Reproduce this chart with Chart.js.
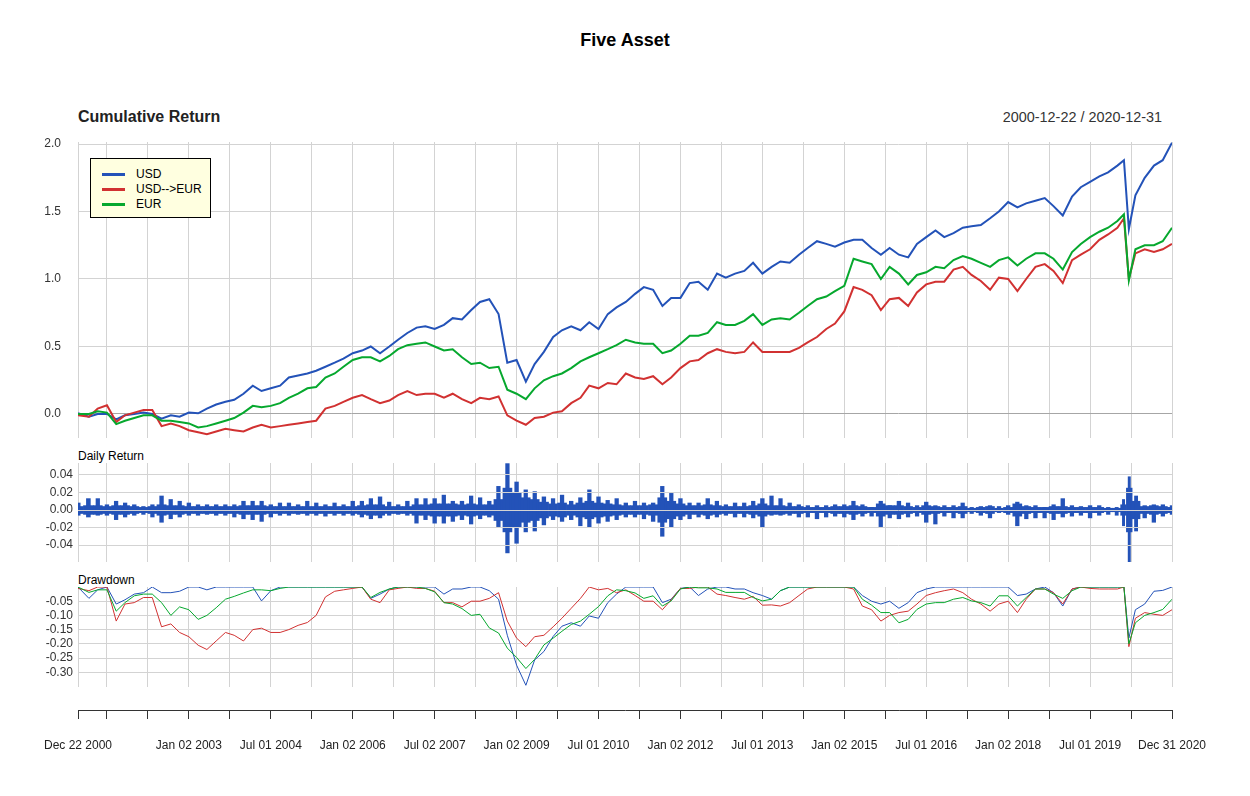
<!DOCTYPE html>
<html>
<head>
<meta charset="utf-8">
<title>Five Asset</title>
<script src="https://cdn.jsdelivr.net/npm/chart.js@4.4.0/dist/chart.umd.min.js"></script>
<style>
  body { margin: 0; background: #fff; font-family: "Liberation Sans", Arial, Helvetica, sans-serif; }
  #page { position: relative; width: 1250px; height: 796px; overflow: hidden; }
  .txt { position: absolute; white-space: nowrap; line-height: 1; }
  canvas { position: absolute; left: 0; }
  #legend { position: absolute; left: 90px; top: 158px; width: 119px; height: 58px; border: 1px solid #000; background: #ffffe0; }
  #legend .sw { position: absolute; left: 11px; width: 23px; height: 3px; }
  #legend .lb { position: absolute; left: 45px; font-size: 12px; line-height: 12px; color: #000; }
</style>
</head>
<body>
<div id="page">
  <div class="txt" style="left:0;width:1250px;text-align:center;top:31px;font-size:18px;font-weight:bold;color:#000">Five Asset</div>
  <div class="txt" style="left:78px;top:109px;font-size:16px;font-weight:bold;color:#222">Cumulative Return</div>
  <div class="txt" style="right:88px;top:110px;font-size:14.4px;color:#333">2000-12-22 / 2020-12-31</div>
  <div class="txt" style="left:78px;top:450px;font-size:12px;color:#000">Daily Return</div>
  <div class="txt" style="left:78px;top:574px;font-size:12px;color:#000">Drawdown</div>

  <canvas id="cumChart" width="1250" height="320" style="top:130px"></canvas>
  <canvas id="dailyChart" width="1250" height="118" style="top:452px"></canvas>
  <canvas id="ddChart" width="1250" height="200" style="top:575px"></canvas>

  <div id="legend">
    <div class="sw" style="top:14px;background:#2352b8"></div><div class="lb" style="top:9px">USD</div>
    <div class="sw" style="top:29px;background:#d13131"></div><div class="lb" style="top:24px">USD--&gt;EUR</div>
    <div class="sw" style="top:44px;background:#06a82e"></div><div class="lb" style="top:39px">EUR</div>
  </div>
</div>

<script>
// sample dates (decimal years, roughly every two months, plus the March 2020 crash)
const dates = [
  2000.97, 2001.17, 2001.33, 2001.5, 2001.67, 2001.83,
  2002, 2002.17, 2002.33, 2002.5, 2002.67, 2002.83,
  2003, 2003.17, 2003.33, 2003.5, 2003.67, 2003.83,
  2004, 2004.17, 2004.33, 2004.5, 2004.67, 2004.83,
  2005, 2005.17, 2005.33, 2005.5, 2005.67, 2005.83,
  2006, 2006.17, 2006.33, 2006.5, 2006.67, 2006.83,
  2007, 2007.17, 2007.33, 2007.5, 2007.67, 2007.83,
  2008, 2008.17, 2008.33, 2008.5, 2008.67, 2008.83,
  2009, 2009.17, 2009.33, 2009.5, 2009.67, 2009.83,
  2010, 2010.17, 2010.33, 2010.5, 2010.67, 2010.83,
  2011, 2011.17, 2011.33, 2011.5, 2011.67, 2011.83,
  2012, 2012.17, 2012.33, 2012.5, 2012.67, 2012.83,
  2013, 2013.17, 2013.33, 2013.5, 2013.67, 2013.83,
  2014, 2014.17, 2014.33, 2014.5, 2014.67, 2014.83,
  2015, 2015.17, 2015.33, 2015.5, 2015.67, 2015.83,
  2016, 2016.17, 2016.33, 2016.5, 2016.67, 2016.83,
  2017, 2017.17, 2017.33, 2017.5, 2017.67, 2017.83,
  2018, 2018.17, 2018.33, 2018.5, 2018.67, 2018.83,
  2019, 2019.17, 2019.33, 2019.5, 2019.67, 2019.83,
  2020, 2020.12, 2020.21, 2020.33, 2020.5, 2020.67, 2020.83, 2021
];

// cumulative return
const usdCum = [
  0.005, -0.02, 0.0, 0.0, -0.04, -0.01,
  0.0, 0.01, 0.0, -0.035, -0.01, -0.02,
  0.01, 0.005, 0.04, 0.07, 0.09, 0.105,
  0.15, 0.21, 0.17, 0.19, 0.21, 0.27,
  0.285, 0.30, 0.32, 0.35, 0.38, 0.41,
  0.45, 0.47, 0.50, 0.45, 0.50, 0.55,
  0.60, 0.64, 0.65, 0.63, 0.66, 0.71,
  0.70, 0.77, 0.83, 0.85, 0.74, 0.38,
  0.40, 0.24, 0.37, 0.46, 0.57, 0.62,
  0.65, 0.62, 0.68, 0.63, 0.74, 0.79,
  0.83, 0.89, 0.94, 0.92, 0.80, 0.86,
  0.86, 0.97, 0.98, 0.92, 1.04, 1.01,
  1.04, 1.06, 1.12, 1.04, 1.09, 1.13,
  1.12, 1.18, 1.23, 1.28, 1.26, 1.24,
  1.27, 1.29, 1.29, 1.23, 1.18, 1.23,
  1.18, 1.16, 1.26, 1.31, 1.36, 1.31,
  1.34, 1.38, 1.39, 1.40, 1.45, 1.50,
  1.57, 1.53, 1.56, 1.58, 1.60, 1.54,
  1.47, 1.61, 1.68, 1.72, 1.76, 1.79,
  1.84, 1.88, 1.37, 1.62, 1.75, 1.84, 1.88, 2.01
];
const usdEurCum = [
  -0.01, -0.02, 0.04, 0.065, -0.06, -0.01,
  0.01, 0.03, 0.03, -0.09, -0.07, -0.09,
  -0.12, -0.135, -0.15, -0.13, -0.11, -0.12,
  -0.13, -0.10, -0.08, -0.10, -0.09, -0.08,
  -0.07, -0.06, -0.05, 0.04, 0.06, 0.09,
  0.12, 0.14, 0.11, 0.08, 0.10, 0.14,
  0.17, 0.14, 0.15, 0.15, 0.12, 0.15,
  0.11, 0.08, 0.12, 0.11, 0.13, -0.01,
  -0.05, -0.08, -0.03, -0.02, 0.01, 0.02,
  0.08, 0.12, 0.21, 0.19, 0.23, 0.22,
  0.30, 0.27, 0.26, 0.28, 0.22, 0.27,
  0.34, 0.39, 0.40, 0.45, 0.48, 0.46,
  0.45, 0.46, 0.53, 0.46, 0.46, 0.46,
  0.46, 0.49, 0.53, 0.57, 0.63, 0.67,
  0.76, 0.94, 0.92, 0.88, 0.77, 0.85,
  0.86, 0.80, 0.90, 0.96, 0.98, 0.98,
  1.07, 1.09, 1.03, 0.985, 0.92, 1.01,
  1.00, 0.91, 1.00, 1.09, 1.11, 1.06,
  0.97, 1.14, 1.18, 1.22, 1.29, 1.33,
  1.38, 1.45, 1.00, 1.19, 1.22, 1.20, 1.22, 1.26
];
const eurCum = [
  0.0, 0.0, 0.02, 0.01, -0.075, -0.05,
  -0.03, -0.01, -0.01, -0.05, -0.05, -0.06,
  -0.07, -0.10, -0.09, -0.07, -0.05, -0.03,
  0.01, 0.06, 0.05, 0.06, 0.08, 0.12,
  0.15, 0.19, 0.20, 0.27, 0.30, 0.35,
  0.40, 0.42, 0.42, 0.39, 0.43, 0.48,
  0.51, 0.52, 0.53, 0.50, 0.47, 0.48,
  0.42, 0.37, 0.38, 0.34, 0.35, 0.18,
  0.15, 0.11, 0.19, 0.25, 0.28, 0.30,
  0.34, 0.39, 0.42, 0.45, 0.48, 0.51,
  0.55, 0.53, 0.52, 0.52, 0.45, 0.47,
  0.52, 0.58, 0.58, 0.60, 0.68, 0.66,
  0.66, 0.69, 0.74, 0.66, 0.70, 0.71,
  0.70, 0.75, 0.80, 0.85, 0.87, 0.91,
  0.95, 1.15, 1.13, 1.11, 1.00, 1.09,
  1.04, 0.96, 1.03, 1.05, 1.09, 1.08,
  1.14, 1.17, 1.15, 1.12, 1.09, 1.14,
  1.16, 1.10, 1.15, 1.19, 1.19, 1.15,
  1.07, 1.20, 1.26, 1.31, 1.35, 1.38,
  1.43, 1.48, 0.99, 1.22, 1.25, 1.25, 1.28, 1.38
];

// daily return (USD): lowest and highest day in each sample period
const dailyLow = [
  -0.006, -0.008, -0.006, -0.006, -0.011, -0.008,
  -0.006, -0.005, -0.008, -0.014, -0.010, -0.008,
  -0.006, -0.006, -0.005, -0.006, -0.006, -0.008,
  -0.010, -0.011, -0.013, -0.008, -0.006, -0.006,
  -0.005, -0.006, -0.006, -0.007, -0.006, -0.006,
  -0.006, -0.008, -0.010, -0.009, -0.006, -0.005,
  -0.006, -0.015, -0.011, -0.015, -0.015, -0.013,
  -0.011, -0.016, -0.010, -0.008, -0.019, -0.049,
  -0.038, -0.025, -0.024, -0.017, -0.011, -0.013,
  -0.011, -0.018, -0.020, -0.015, -0.013, -0.011,
  -0.008, -0.008, -0.010, -0.013, -0.030, -0.020,
  -0.011, -0.010, -0.008, -0.010, -0.008, -0.006,
  -0.008, -0.008, -0.009, -0.020, -0.006, -0.006,
  -0.006, -0.008, -0.008, -0.010, -0.008, -0.007,
  -0.008, -0.011, -0.007, -0.007, -0.019, -0.009,
  -0.010, -0.008, -0.007, -0.014, -0.016, -0.007,
  -0.009, -0.009, -0.004, -0.006, -0.009, -0.003,
  -0.005, -0.018, -0.010, -0.009, -0.009, -0.011,
  -0.008, -0.007, -0.006, -0.009, -0.006, -0.005,
  -0.006, -0.018, -0.060, -0.024, -0.009, -0.014, -0.007, -0.005
];
const dailyHigh = [
  0.008, 0.013, 0.013, 0.006, 0.010, 0.008,
  0.006, 0.004, 0.006, 0.016, 0.012, 0.010,
  0.008, 0.006, 0.006, 0.006, 0.006, 0.006,
  0.010, 0.010, 0.010, 0.006, 0.008, 0.008,
  0.006, 0.010, 0.008, 0.006, 0.008, 0.006,
  0.010, 0.010, 0.013, 0.015, 0.009, 0.006,
  0.010, 0.013, 0.013, 0.013, 0.017, 0.010,
  0.010, 0.016, 0.014, 0.010, 0.027, 0.053,
  0.032, 0.023, 0.021, 0.015, 0.013, 0.017,
  0.010, 0.014, 0.023, 0.015, 0.011, 0.013,
  0.008, 0.010, 0.008, 0.008, 0.027, 0.019,
  0.013, 0.008, 0.008, 0.013, 0.010, 0.006,
  0.008, 0.008, 0.010, 0.013, 0.016, 0.013,
  0.008, 0.006, 0.005, 0.005, 0.005, 0.006,
  0.006, 0.010, 0.006, 0.003, 0.010, 0.005,
  0.010, 0.008, 0.005, 0.009, 0.005, 0.005,
  0.005, 0.008, 0.003, 0.004, 0.005, 0.004,
  0.005, 0.009, 0.005, 0.005, 0.003, 0.006,
  0.013, 0.005, 0.004, 0.005, 0.005, 0.003,
  0.003, 0.012, 0.038, 0.016, 0.005, 0.006, 0.006, 0.005
];
// typical size of the daily moves in each period (the solid band round zero)
const dailyCore = [
  0.004, 0.005, 0.005, 0.004, 0.005, 0.005,
  0.004, 0.003, 0.004, 0.006, 0.005, 0.005,
  0.004, 0.004, 0.004, 0.004, 0.004, 0.004,
  0.005, 0.005, 0.005, 0.004, 0.004, 0.004,
  0.004, 0.004, 0.004, 0.004, 0.004, 0.004,
  0.004, 0.005, 0.006, 0.006, 0.004, 0.004,
  0.004, 0.006, 0.006, 0.007, 0.007, 0.007,
  0.006, 0.007, 0.006, 0.006, 0.012, 0.025,
  0.020, 0.014, 0.012, 0.009, 0.007, 0.008,
  0.006, 0.008, 0.010, 0.008, 0.007, 0.006,
  0.005, 0.005, 0.005, 0.006, 0.014, 0.010,
  0.007, 0.005, 0.005, 0.006, 0.005, 0.004,
  0.004, 0.004, 0.005, 0.007, 0.005, 0.005,
  0.004, 0.004, 0.003, 0.003, 0.003, 0.004,
  0.004, 0.005, 0.004, 0.003, 0.007, 0.005,
  0.005, 0.004, 0.003, 0.005, 0.004, 0.003,
  0.003, 0.004, 0.002, 0.003, 0.004, 0.002,
  0.003, 0.007, 0.004, 0.003, 0.003, 0.004,
  0.004, 0.003, 0.003, 0.003, 0.003, 0.002,
  0.002, 0.006, 0.025, 0.010, 0.004, 0.005, 0.004, 0.003
];

// drawdown
const usdDD = [
  0, -0.04, -0.01, 0, -0.06, -0.045,
  -0.025, -0.02, 0, -0.02, -0.02, -0.015,
  0, 0, -0.01, 0, 0, 0,
  0, 0, -0.049, -0.013, 0, 0,
  0, 0, 0, 0, 0, 0,
  0, 0, -0.04, -0.025, -0.007, 0,
  0, 0, 0, 0, -0.025, -0.007,
  -0.007, 0, 0, -0.013, -0.043, -0.17,
  -0.275, -0.346, -0.257, -0.227, -0.174, -0.138,
  -0.126, -0.138, -0.102, -0.11, -0.055, -0.025,
  0, 0, 0, 0, -0.055, -0.043,
  -0.005, 0, -0.03, -0.007, 0, 0,
  -0.007, -0.007, -0.02, -0.03, -0.043, -0.013,
  0, 0, 0, 0, 0, 0,
  0, 0, -0.03, -0.05, -0.06, -0.05,
  -0.075, -0.055, -0.02, -0.007, 0, 0,
  0, 0, 0, 0, 0, 0,
  0, -0.03, -0.025, -0.007, 0, -0.02,
  -0.067, -0.007, 0, 0, 0, 0,
  0, 0, -0.18, -0.08, -0.06, -0.015, -0.012, 0
];
const usdEurDD = [
  -0.005, -0.013, 0, 0, -0.12, -0.06,
  -0.055, -0.037, -0.037, -0.14, -0.13, -0.16,
  -0.175, -0.205, -0.22, -0.19, -0.16, -0.17,
  -0.19, -0.15, -0.145, -0.16, -0.16, -0.15,
  -0.135, -0.125, -0.10, -0.035, -0.015, -0.01,
  -0.005, 0, -0.043, -0.055, -0.01, -0.005,
  0, -0.005, -0.005, -0.015, -0.055, -0.055,
  -0.07, -0.05, -0.05, -0.04, -0.02, -0.12,
  -0.18, -0.21, -0.175, -0.17, -0.14, -0.11,
  -0.075, -0.04, 0, -0.01, -0.005, -0.02,
  -0.01, -0.03, -0.05, -0.05, -0.08, -0.045,
  -0.005, -0.005, 0, 0, -0.025, -0.03,
  -0.037, -0.043, -0.033, -0.064, -0.063, -0.067,
  -0.055, -0.03, -0.007, 0, 0, 0,
  0, -0.007, -0.067, -0.08, -0.12, -0.10,
  -0.09, -0.085, -0.06, -0.03, -0.02, -0.013,
  -0.007, -0.02, -0.043, -0.06, -0.085, -0.06,
  -0.05, -0.09, -0.043, -0.007, -0.007, -0.02,
  -0.06, -0.007, 0, -0.005, -0.007, -0.007,
  -0.007, 0, -0.21, -0.11, -0.09, -0.096, -0.10, -0.08
];
const eurDD = [
  0, -0.019, -0.01, -0.01, -0.085, -0.055,
  -0.031, -0.025, -0.025, -0.055, -0.10, -0.07,
  -0.08, -0.114, -0.10, -0.073, -0.043, -0.033,
  -0.021, -0.01, -0.01, -0.013, -0.005, 0,
  0, 0, 0, 0, 0, 0,
  0, 0, -0.037, -0.019, -0.007, 0,
  0, 0, -0.005, -0.017, -0.055, -0.06,
  -0.076, -0.10, -0.096, -0.144, -0.162, -0.215,
  -0.248, -0.287, -0.255, -0.204, -0.18, -0.156,
  -0.132, -0.12, -0.096, -0.069, -0.031, -0.01,
  -0.013, -0.021, -0.04, -0.031, -0.067, -0.049,
  -0.007, 0, -0.003, -0.003, -0.007, -0.019,
  -0.019, -0.019, -0.037, -0.049, -0.043, -0.013,
  0, 0, 0, 0, 0, 0,
  0, 0, -0.043, -0.064, -0.09, -0.09,
  -0.126, -0.114, -0.079, -0.06, -0.055, -0.055,
  -0.043, -0.037, -0.049, -0.055, -0.067, -0.031,
  -0.031, -0.067, -0.037, -0.007, -0.007, -0.025,
  -0.04, -0.013, 0, 0, 0, 0,
  0, 0, -0.20, -0.126, -0.10, -0.09, -0.079, -0.043
];

// axis ticks
const tickDates = [2000.97, 2001.5, 2002.25, 2003, 2003.75, 2004.5, 2005.25, 2006, 2006.75, 2007.5,
  2008.25, 2009, 2009.75, 2010.5, 2011.25, 2012, 2012.75, 2013.5, 2014.25, 2015,
  2015.75, 2016.5, 2017.25, 2018, 2018.75, 2019.5, 2020.25, 2021];
const tickLabels = ['Dec 22 2000', '', '', 'Jan 02 2003', '', 'Jul 01 2004', '', 'Jan 02 2006', '', 'Jul 02 2007',
  '', 'Jan 02 2009', '', 'Jul 01 2010', '', 'Jan 02 2012', '', 'Jul 01 2013', '', 'Jan 02 2015',
  '', 'Jul 01 2016', '', 'Jan 02 2018', '', 'Jul 01 2019', '', 'Dec 31 2020'];
const cumTicks = [0, 0.5, 1, 1.5, 2];
const dailyTicks = [-0.04, -0.02, 0, 0.02, 0.04];
const ddTicks = [-0.30, -0.25, -0.20, -0.15, -0.10, -0.05];

const X_MIN = 2000.97, X_MAX = 2021;
const GRID = '#d3d3d3';
const BLUE = '#2352b8', RED = '#d13131', GREEN = '#06a82e';

Chart.defaults.font.family = '"Liberation Sans", Arial, Helvetica, sans-serif';
Chart.defaults.font.size = 12;
Chart.defaults.color = '#333';
Chart.defaults.animation = false;

function points(ys) {
  return dates.map((d, i) => ({ x: d, y: ys[i] }));
}

function lineSet(label, ys, color, width, order) {
  return {
    label: label, data: points(ys), borderColor: color, backgroundColor: color,
    borderWidth: width, pointRadius: 0, tension: 0, order: order
  };
}

// x axis that only draws the vertical grid lines
function gridX(height, extra) {
  return Object.assign({
    type: 'linear', min: X_MIN, max: X_MAX, offset: false, weight: 0,
    afterBuildTicks: s => { s.ticks = tickDates.map(v => ({ value: v })); },
    afterFit: s => { s.height = height; s.paddingLeft = 0; s.paddingRight = 0; },
    ticks: { display: false },
    grid: { color: GRID, drawTicks: false, offset: false },
    border: { display: false }
  }, extra || {});
}

function valueY(min, max, ticks, digits, padding, extra) {
  return Object.assign({
    min: min, max: max,
    afterBuildTicks: s => { s.ticks = ticks.map(v => ({ value: v })); },
    // fixed axis width; no extra room reserved for the end labels
    afterFit: s => { s.width = 78; s.paddingTop = 0; s.paddingBottom = 0; },
    ticks: { padding: padding, color: '#333', callback: v => Number(v).toFixed(digits) },
    grid: { color: GRID, drawTicks: false },
    border: { display: false }
  }, extra || {});
}

const basePlugins = { legend: { display: false }, tooltip: { enabled: false } };

// --- cumulative return ---
new Chart(document.getElementById('cumChart'), {
  type: 'line',
  data: {
    datasets: [
      lineSet('USD', usdCum, BLUE, 2, 2),
      lineSet('USD-->EUR', usdEurCum, RED, 2, 1),
      lineSet('EUR', eurCum, GREEN, 2, 0)
    ]
  },
  options: {
    responsive: false,
    layout: { padding: { top: 12, bottom: 12, left: 0, right: 78 } },
    scales: {
      x: gridX(0),
      y: valueY(-0.178, 2.015, cumTicks, 1, 17, {
        grid: { color: ctx => (ctx.tick && ctx.tick.value === 0) ? '#a6a6a6' : GRID, drawTicks: false }
      })
    },
    plugins: basePlugins
  }
});

// --- daily return: solid band plus thin spikes to the period extremes ---
new Chart(document.getElementById('dailyChart'), {
  type: 'bar',
  data: {
    datasets: [
      {
        label: 'USD extremes',
        data: dates.map((d, i) => ({ x: d, y: [dailyLow[i], dailyHigh[i]] })),
        backgroundColor: BLUE,
        barThickness: 'flex', barPercentage: 0.4, categoryPercentage: 1
      },
      {
        label: 'USD typical',
        data: dates.map((d, i) => ({ x: d, y: [-dailyCore[i], dailyCore[i]] })),
        backgroundColor: BLUE,
        barThickness: 'flex', barPercentage: 1, categoryPercentage: 1
      }
    ]
  },
  options: {
    responsive: false,
    layout: { padding: { top: 11, bottom: 8, left: 0, right: 78 } },
    scales: {
      // stacked index axis: both bar sets share one slot, values are not added
      x: gridX(0, { stacked: true }),
      y: valueY(-0.0594, 0.0537, dailyTicks, 2, 5, {
        stacked: false,
        grid: { color: GRID, drawTicks: false, z: 1 }
      })
    },
    plugins: basePlugins
  }
});

// --- drawdown with the date axis underneath ---
new Chart(document.getElementById('ddChart'), {
  type: 'line',
  data: {
    datasets: [
      lineSet('USD', usdDD, BLUE, 1, 2),
      lineSet('USD-->EUR', usdEurDD, RED, 1, 1),
      lineSet('EUR', eurDD, GREEN, 1, 0)
    ]
  },
  options: {
    responsive: false,
    layout: { padding: { top: 12, bottom: 5, left: 0, right: 78 } },
    scales: {
      x: gridX(23),
      x2: {
        type: 'linear', position: 'bottom', min: X_MIN, max: X_MAX, offset: false, weight: 1,
        afterBuildTicks: s => { s.ticks = tickDates.map(v => ({ value: v })); },
        afterFit: s => { s.height = 60; s.paddingLeft = 0; s.paddingRight = 0; },
        ticks: { autoSkip: false, maxRotation: 0, padding: 19, color: '#222',
                 callback: (v, i) => tickLabels[i] },
        grid: { drawOnChartArea: false, drawTicks: true, tickLength: 9, color: '#333', offset: false },
        border: { display: true, color: '#333', width: 1 }
      },
      y: valueY(-0.352, 0, ddTicks, 2, 5)
    },
    plugins: basePlugins
  }
});
</script>
</body>
</html>
